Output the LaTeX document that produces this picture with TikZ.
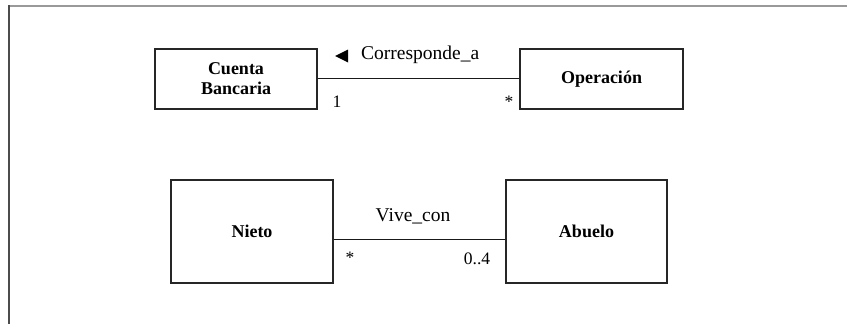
\documentclass[tikz,border=0pt]{standalone}
\usepackage{fontspec}
\setmainfont{Liberation Serif}
\begin{document}
\begin{tikzpicture}[x=1pt,y=-1pt,
  cls/.style={draw=black!85, line width=1.1pt, fill=white, align=center, inner sep=0pt,
     font=\fontsize{18}{20}\selectfont\bfseries},
  lbl/.style={inner sep=0pt, font=\fontsize{19.5}{22}\selectfont},
  mult/.style={inner sep=0pt, font=\fontsize{17.5}{20}\selectfont},
  assoc/.style={draw=black!90, line width=1pt}]
\useasboundingbox (0,0) rectangle (847,324);
\draw[line width=2pt, draw=black!40] (8,6) -- (847,6);
\draw[line width=2.2pt, draw=black!70] (9,5) -- (9,324);
\node[cls, minimum width=162pt, minimum height=60pt] (cb) at (236,79) {Cuenta\\Bancaria};
\node[cls, minimum width=163pt, minimum height=60pt] (op) at (601.5,79) {Operación};
\node[cls, minimum width=162pt, minimum height=103pt] (ni) at (252,231.5) {Nieto};
\node[cls, minimum width=161pt, minimum height=103pt] (ab) at (586.5,231.5) {Abuelo};
\draw[assoc] ([yshift=1pt]cb.east) -- ([yshift=1pt]op.west);
\draw[assoc] ([yshift=-7.5pt]ni.east) -- ([yshift=-7.5pt]ab.west);
\fill (335,56) -- (348,49.5) -- (348,62.5) -- cycle;
\node[lbl, anchor=west] (rol) at (361,55) {Corresponde\_a};
\node[mult] (m1) at (337,102) {1};
\node[mult] (m2) at (509,102) {*};
\node[lbl] (vc) at (413,216) {Vive\_con};
\node[mult] (m3) at (350,258) {*};
\node[mult] (m4) at (477,259) {0..4};
\end{tikzpicture}
\end{document}
